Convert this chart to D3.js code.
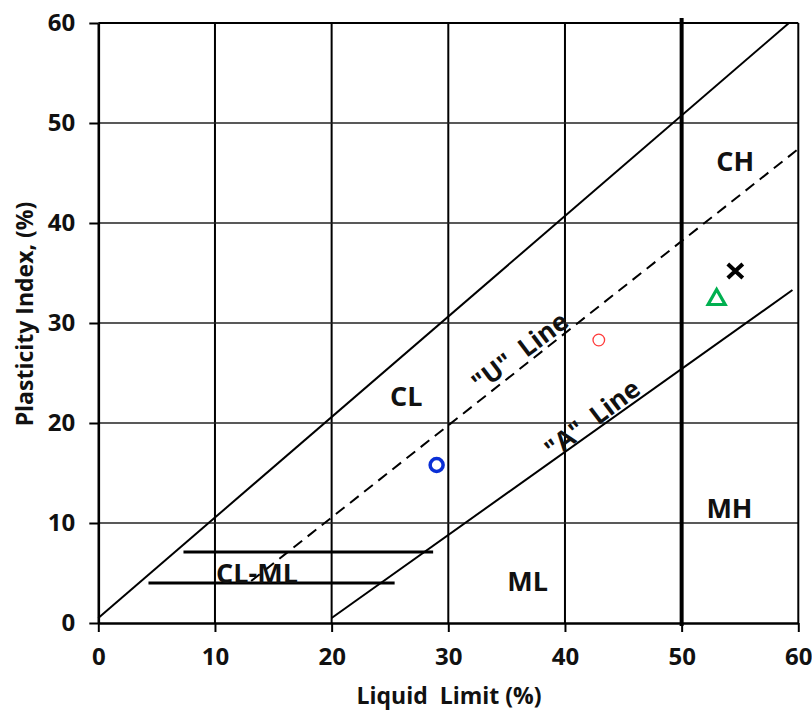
<!DOCTYPE html>
<html><head><meta charset="utf-8">
<script src="https://cdn.jsdelivr.net/npm/d3@7"></script>
<style>body{margin:0;background:#fff}svg{display:block}text{font-family:"Open Sans",sans-serif;font-weight:bold;fill:#111}</style>
</head><body><svg id="c" width="812" height="713"></svg>
<script>
const xTicks = [0,10,20,30,40,50,60];
const yTicks = [0,10,20,30,40,50,60];
const upperLine = [[0,0.5],[59.2,60]];
const uLine = [[13.1,4.2],[60,47.4]];
const aLine = [[20,0.5],[59.5,33.3]];
const clmlUpper = [[7.3,7.1],[28.7,7.1]];
const clmlLower = [[4.3,4.0],[25.4,4.0]];
const divider = [[50,-0.3],[50,60.5]];
const samples = [
  {name:"blue", ll:29.0, pi:15.8},
  {name:"red", ll:42.9, pi:28.3},
  {name:"green", ll:53.0, pi:32.5},
  {name:"black", ll:54.6, pi:35.2}
];
const zoneLabels = [
  {t:"CH", ll:54.6, pi:46.3},
  {t:"CL", ll:26.4, pi:22.8},
  {t:"MH", ll:54.1, pi:11.6},
  {t:"ML", ll:36.8, pi:4.3},
  {t:"CL-ML", ll:13.6, pi:5.1}
];

const svg = d3.select("#c");
const x = d3.scaleLinear().domain([0,60]).range([98.3,798.3]);
const y = d3.scaleLinear().domain([0,60]).range([623,23]);
const line = d3.line().x(d=>x(d[0])).y(d=>y(d[1]));

// grid
svg.append("g").selectAll("line").data([10,20,30,40]).join("line")
  .attr("x1",d=>x(d)).attr("x2",d=>x(d)).attr("y1",y(0)).attr("y2",y(60))
  .attr("stroke","#000").attr("stroke-width",2);
svg.append("g").selectAll("line").data([10,20,30,40,50]).join("line")
  .attr("x1",x(0)).attr("x2",x(60)).attr("y1",d=>y(d)).attr("y2",d=>y(d))
  .attr("stroke","#222").attr("stroke-width",1.6);
// frame top/right
svg.append("line").attr("x1",x(0)).attr("x2",x(60)).attr("y1",y(60)).attr("y2",y(60)).attr("stroke","#000").attr("stroke-width",2);
svg.append("line").attr("x1",x(60)).attr("x2",x(60)).attr("y1",y(0)).attr("y2",y(60)).attr("stroke","#000").attr("stroke-width",2);

// axes
const xAxis = svg.append("g").attr("transform",`translate(0,${y(0)})`)
  .call(d3.axisBottom(x).tickValues(xTicks).tickSize(9).tickPadding(16).tickSizeOuter(0));
const yAxis = svg.append("g").attr("transform",`translate(${x(0)},0)`)
  .call(d3.axisLeft(y).tickValues(yTicks).tickSize(9).tickPadding(14).tickSizeOuter(0));
[xAxis,yAxis].forEach(a=>{
  a.select(".domain").attr("stroke","#000").attr("stroke-width",2.6);
  a.selectAll(".tick line").attr("stroke","#000").attr("stroke-width",2);
  a.selectAll(".tick text").attr("font-size",24).attr("font-family","Open Sans").attr("font-weight","bold").attr("fill","#111");
});

// lines
svg.append("path").attr("d",line(upperLine)).attr("stroke","#000").attr("stroke-width",2).attr("fill","none");
svg.append("path").attr("d",line(uLine)).attr("stroke","#000").attr("stroke-width",2).attr("stroke-dasharray","11,7").attr("fill","none");
svg.append("path").attr("d",line(aLine)).attr("stroke","#000").attr("stroke-width",2).attr("fill","none");
svg.append("path").attr("d",line(clmlUpper)).attr("stroke","#000").attr("stroke-width",3).attr("fill","none");
svg.append("path").attr("d",line(clmlLower)).attr("stroke","#000").attr("stroke-width",3).attr("fill","none");
svg.append("path").attr("d",line(divider)).attr("stroke","#000").attr("stroke-width",4).attr("fill","none");

// zone labels
svg.append("g").selectAll("text").data(zoneLabels).join("text")
  .attr("x",d=>x(d.ll)).attr("y",d=>y(d.pi)).attr("text-anchor","middle").attr("dominant-baseline","central")
  .attr("font-size",27).text(d=>d.t);

// rotated line labels
svg.append("text").attr("transform",`translate(${x(36.1)},${y(27.2)}) rotate(-37)`)
  .attr("text-anchor","middle").attr("dominant-baseline","central").attr("font-size",26)
  .style("white-space","pre").text('"U"  Line');
svg.append("text").attr("transform",`translate(${x(42.3)},${y(20.5)}) rotate(-37)`)
  .attr("text-anchor","middle").attr("dominant-baseline","central").attr("font-size",26)
  .style("white-space","pre").text('"A"  Line');

// samples
const s = Object.fromEntries(samples.map(d=>[d.name,d]));
svg.append("circle").attr("cx",x(s.blue.ll)).attr("cy",y(s.blue.pi)).attr("r",6.5)
  .attr("fill","none").attr("stroke","#0a2fd6").attr("stroke-width",3.5);
svg.append("circle").attr("cx",x(s.red.ll)).attr("cy",y(s.red.pi)).attr("r",5.8)
  .attr("fill","none").attr("stroke","#ff3b3b").attr("stroke-width",1.3);
svg.append("path").attr("transform",`translate(${x(s.green.ll)},${y(s.green.pi)})`)
  .attr("d","M0,-8.5L8.5,6.5L-8.5,6.5Z").attr("fill","none").attr("stroke","#00b050").attr("stroke-width",3.2);
svg.append("path").attr("transform",`translate(${x(s.black.ll)},${y(s.black.pi)})`)
  .attr("d","M-7.5,-7L7.5,7M-7.5,7L7.5,-7").attr("stroke","#000").attr("stroke-width",4);

// axis titles
svg.append("text").attr("x",449).attr("y",695).attr("text-anchor","middle").attr("dominant-baseline","central")
  .attr("font-size",23).style("white-space","pre").text("Liquid  Limit (%)");
svg.append("text").attr("transform","translate(24,314) rotate(-90)").attr("text-anchor","middle").attr("dominant-baseline","central")
  .attr("font-size",23).text("Plasticity Index, (%)");
</script></body></html>
